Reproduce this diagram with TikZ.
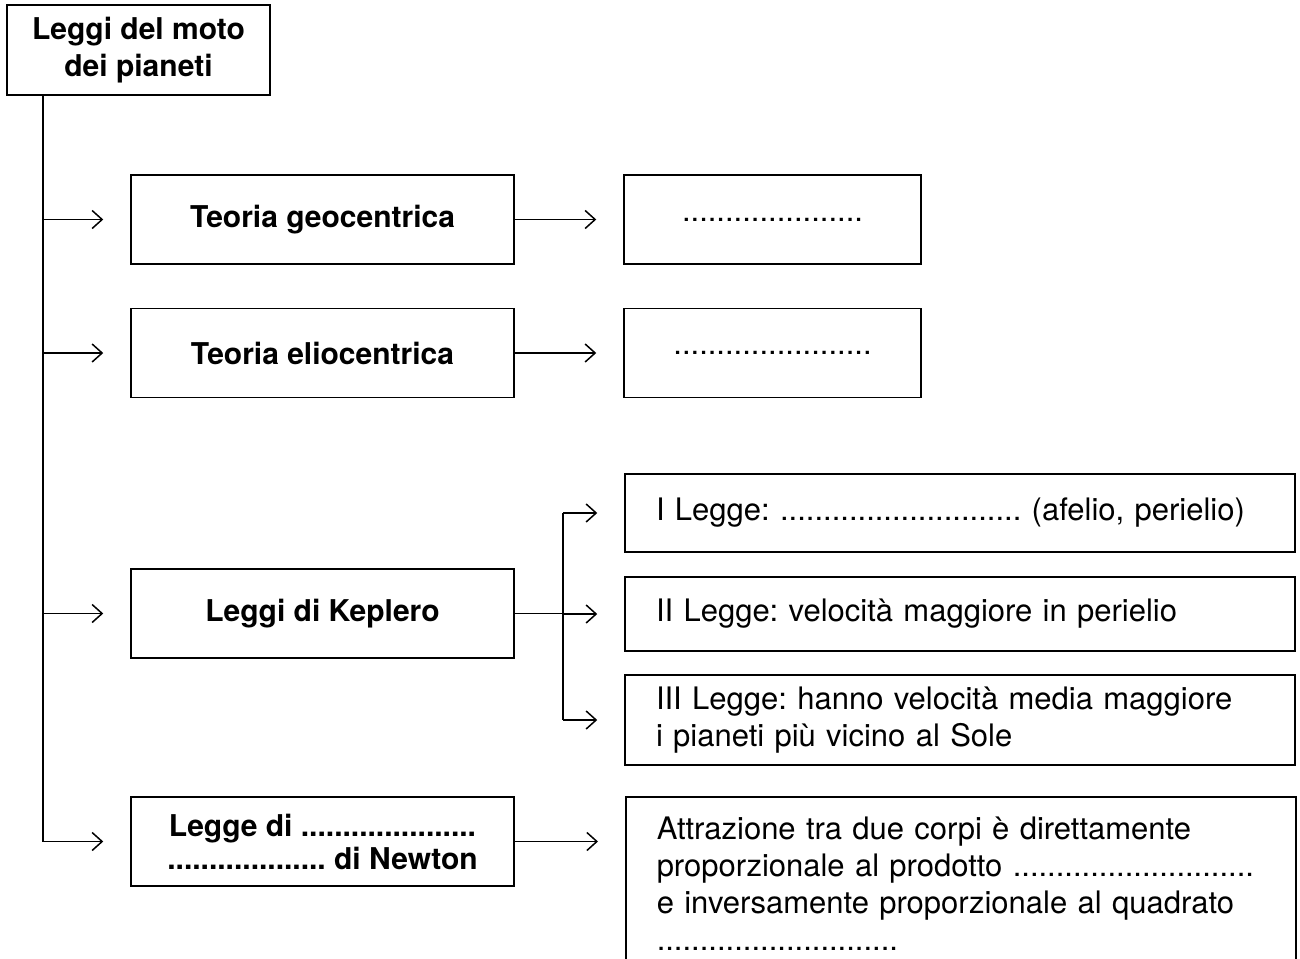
\documentclass[tikz,border=0pt]{standalone}
\usepackage{fontspec}
\setmainfont{TeX Gyre Heros}
\usetikzlibrary{arrows.meta}
\frenchspacing

\begin{document}
\begin{tikzpicture}[x=0.5pt,y=-0.5pt]
        % Define styles
        \tikzset{
            title/.style={rectangle, draw, line width=0.75pt, align=center, inner sep=0pt, font=\fontsize{15}{18.5}\selectfont\bfseries},
            theory/.style={title, minimum width=191.5pt, minimum height=44.5pt},
            result/.style={rectangle, draw, line width=0.75pt, minimum width=148.5pt, minimum height=44.5pt, font=\fontsize{15.5}{18.5}\selectfont},
            law/.style={rectangle, draw, line width=0.75pt, text width=304pt, inner xsep=15.5pt, align=left, font=\fontsize{15.5}{18.5}\selectfont},
            arrow/.style={-{Straight Barb[length=5pt,width=9pt]}, line width=0.75pt, shorten >=13.5pt},
            line/.style={line width=0.75pt}
        }
        \useasboundingbox (0,0) rectangle (1300,958);
        \clip (0,0) rectangle (1300,958);

        % Nodes
        \node[title, minimum width=131.5pt, minimum height=45pt] (planets) at (138.5,50) {Leggi del moto\\dei pianeti};

        \node[theory] (geo) at (322.5,219.5) {Teoria geocentrica};
        \node[theory] (elio) at (322.5,353) {Teoria eliocentrica};
        \node[theory] (kepler) at (322.5,613.5) {Leggi di Keplero};
        \node[theory, font=\fontsize{15}{16.5}\selectfont\bfseries] (newton) at (322.5,841.5) {Legge di .....................\\................... di Newton};

        \node[result] (geores) at (772.5,219.5) {.....................};
        \node[result] (eliores) at (772.5,353) {.......................};

        \node[law, minimum height=39pt] (law1) at (960,513) {I Legge: ............................ (afelio, perielio)};
        \node[law, minimum height=37pt] (law2) at (960,614) {II Legge: velocità maggiore in perielio};
        \node[law, minimum height=45pt] (law3) at (960,720) {III Legge: hanno velocità media maggiore\\i pianeti più vicino al Sole};
        \node[law, anchor=north west, inner ysep=10pt] (gravity) at (625,796) {Attrazione tra due corpi è direttamente\\proporzionale al prodotto ............................\\e inversamente proporzionale al quadrato\\............................};

        % Arrows
        \coordinate (trunk) at (43,95);
        \draw[line] (trunk) -- (trunk |- newton);
        \draw[arrow] (trunk |- geo) -- (geo);
        \draw[arrow] (trunk |- elio) -- (elio);
        \draw[arrow] (trunk |- kepler) -- (kepler);
        \draw[arrow] (trunk |- newton) -- (newton);

        \draw[arrow] (geo) -- (geores);
        \draw[arrow] (elio) -- (eliores);

        \coordinate (split) at (563,613.5);
        \draw[line] (kepler.east) -- (split);
        \draw[line] (split |- law1) -- (split |- law3);
        \draw[arrow] (split |- law1) -- (law1);
        \draw[arrow] (split |- law2) -- (law2);
        \draw[arrow] (split |- law3) -- (law3);

        \draw[arrow] (newton.east) -- (newton.east -| gravity.west);
\end{tikzpicture}
\end{document}
